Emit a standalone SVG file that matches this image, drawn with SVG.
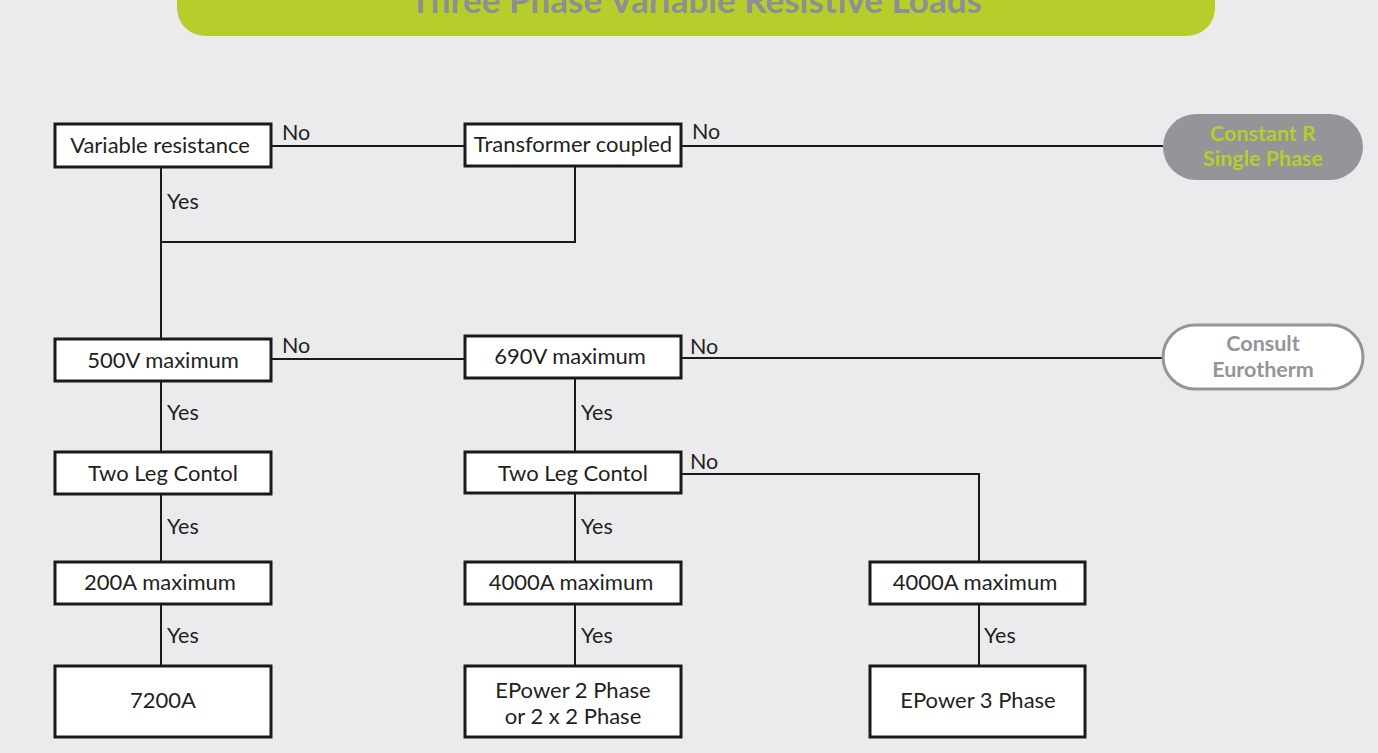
<svg xmlns="http://www.w3.org/2000/svg" width="1378" height="753" viewBox="0 0 1378 753">
<style>
.box{fill:#fff;stroke:#1a1a1a;stroke-width:3}
.t{font-family:Lato,"Noto Sans",sans-serif;font-size:22px;fill:#231f20;text-anchor:middle}
.l{font-family:Lato,"Noto Sans",sans-serif;font-size:21.5px;fill:#231f20}
.c{fill:none;stroke:#1a1a1a;stroke-width:2}
.pb{font-family:Lato,"Noto Sans",sans-serif;font-size:21.5px;font-weight:bold;text-anchor:middle}
</style>
<rect width="1378" height="753" fill="#ebebed"/>
<g id="title">
<rect x="177" y="-40" width="1038" height="76" rx="28" fill="#b7cd2c"/>
<text x="696" y="13" class="pb" style="font-size:35px" fill="#8e8f92">Three Phase Variable Resistive Loads</text>
</g>
<g id="connectors">
<path class="c" d="M271 146H465M681 146H1163"/>
<path class="c" d="M161 167V338M575 166V242H161"/>
<path class="c" d="M271 359H465M682 358H1162"/>
<path class="c" d="M161 382V452M161 494V562M161 604V666"/>
<path class="c" d="M575 379V452M575 494V562M575 604V666"/>
<path class="c" d="M681 474H979V562M979 604V666"/>
</g>
<g id="labels">
<text class="l" x="282" y="140">No</text>
<text class="l" x="692" y="139">No</text>
<text class="l" x="167" y="209">Yes</text>
<text class="l" x="282" y="353">No</text>
<text class="l" x="690" y="354">No</text>
<text class="l" x="167" y="420">Yes</text>
<text class="l" x="581" y="420">Yes</text>
<text class="l" x="690" y="469">No</text>
<text class="l" x="167" y="534">Yes</text>
<text class="l" x="581" y="534">Yes</text>
<text class="l" x="167" y="643">Yes</text>
<text class="l" x="581" y="643">Yes</text>
<text class="l" x="984" y="643">Yes</text>
</g>
<g id="n-varres"><rect class="box" x="55" y="124" width="216" height="43"/><text class="t" x="160" y="153">Variable resistance</text></g>
<g id="n-transformer"><rect class="box" x="465" y="124" width="216" height="42"/><text class="t" x="573" y="152">Transformer coupled</text></g>
<g id="n-constr"><rect x="1163" y="114" width="200" height="66" rx="33" fill="#939598"/><text class="pb" x="1263" y="141" fill="#b7cd2c">Constant R</text><text class="pb" x="1263" y="166" fill="#b7cd2c">Single Phase</text></g>
<g id="n-500v"><rect class="box" x="55" y="339" width="216" height="42"/><text class="t" x="163" y="368">500V maximum</text></g>
<g id="n-690v"><rect class="box" x="465" y="336" width="216" height="42"/><text class="t" x="570" y="364">690V maximum</text></g>
<g id="n-consult"><rect x="1163" y="325" width="200" height="64" rx="32" fill="#fff" stroke="#939598" stroke-width="3"/><text class="pb" x="1263" y="351" fill="#939598">Consult</text><text class="pb" x="1263" y="377" fill="#939598">Eurotherm</text></g>
<g id="n-twoleg1"><rect class="box" x="55" y="452" width="216" height="42"/><text class="t" x="163" y="481">Two Leg Contol</text></g>
<g id="n-twoleg2"><rect class="box" x="465" y="452" width="216" height="41"/><text class="t" x="573" y="481">Two Leg Contol</text></g>
<g id="n-200a"><rect class="box" x="55" y="562" width="216" height="42"/><text class="t" x="160" y="590">200A maximum</text></g>
<g id="n-4000a1"><rect class="box" x="465" y="562" width="216" height="42"/><text class="t" x="571" y="590">4000A maximum</text></g>
<g id="n-4000a2"><rect class="box" x="870" y="562" width="215" height="42"/><text class="t" x="975" y="590">4000A maximum</text></g>
<g id="n-7200a"><rect class="box" x="55" y="666" width="216" height="71"/><text class="t" x="163" y="708">7200A</text></g>
<g id="n-ep2"><rect class="box" x="465" y="666" width="216" height="71"/><text class="t" x="573" y="698">EPower 2 Phase</text><text class="t" x="573" y="724">or 2 x 2 Phase</text></g>
<g id="n-ep3"><rect class="box" x="870" y="666" width="215" height="71"/><text class="t" x="978" y="708">EPower 3 Phase</text></g>
</svg>
